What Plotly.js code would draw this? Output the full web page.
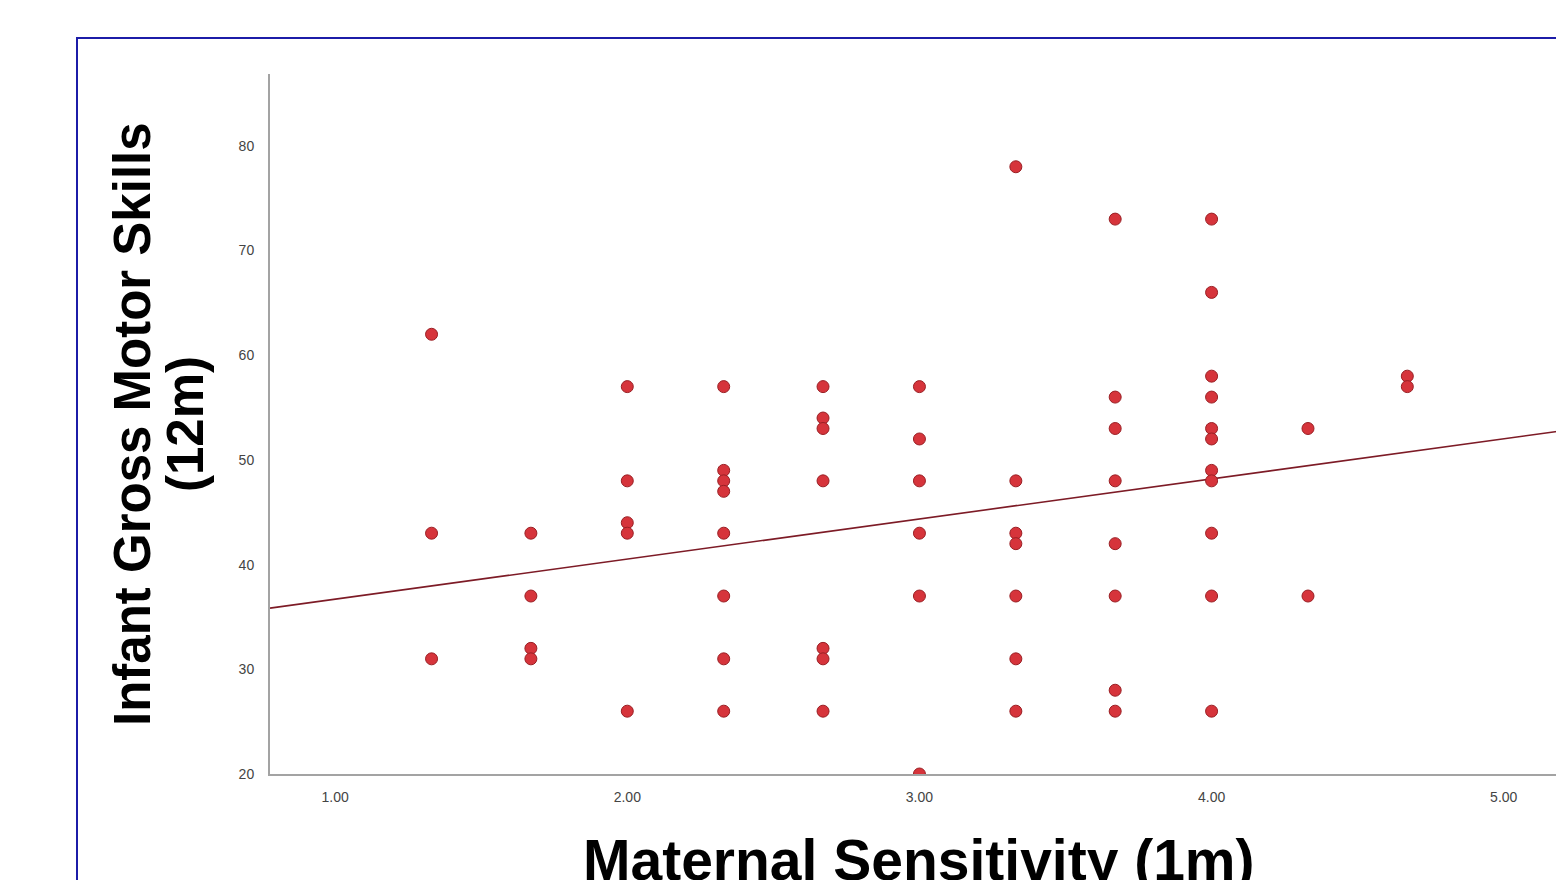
<!DOCTYPE html>
<html>
<head>
<meta charset="utf-8">
<script src="https://cdn.plot.ly/plotly-3.0.1.min.js"></script>
<style>
  html, body { margin: 0; padding: 0; background: #ffffff; overflow: hidden; width: 1556px; height: 880px; }
  #chart { position: absolute; left: 0; top: 0; width: 1640px; height: 900px; }
  #frame { position: absolute; left: 76px; top: 37px; width: 2000px; height: 2000px;
           border: 2px solid #1c1ca8; box-sizing: border-box; pointer-events: none; z-index: 5; }
</style>
</head>
<body>
<div id="chart"></div>
<div id="frame"></div>
<script>
// Maternal Sensitivity (1m) groups and Infant Gross Motor Skills (12m) values
const sensitivityLevels = [1.33, 1.67, 2.00, 2.33, 2.67, 3.00, 3.33, 3.67, 4.00, 4.33, 4.67];
const motorAt133 = [62, 43, 31];
const motorAt167 = [43, 37, 32, 31];
const motorAt200 = [57, 48, 44, 43, 26];
const motorAt233 = [57, 49, 48, 47, 43, 37, 31, 26];
const motorAt267 = [57, 54, 53, 48, 32, 31, 26];
const motorAt300 = [57, 52, 48, 43, 37, 20];
const motorAt333 = [78, 48, 43, 42, 37, 31, 26];
const motorAt367 = [73, 56, 53, 48, 42, 37, 28, 26];
const motorAt400 = [73, 66, 58, 56, 53, 52, 49, 48, 43, 37, 26];
const motorAt433 = [53, 37];
const motorAt467 = [58, 57];
const motorGroups = [motorAt133, motorAt167, motorAt200, motorAt233, motorAt267, motorAt300,
                     motorAt333, motorAt367, motorAt400, motorAt433, motorAt467];

// Linear fit line
const fitIntercept = 32.87;
const fitSlope = 3.83;

const xTickVals = [1, 2, 3, 4, 5];
const xTickText = ['1.00', '2.00', '3.00', '4.00', '5.00'];
const yTickVals = [20, 30, 40, 50, 60, 70, 80];
const xRange = [0.777, 5.22];
const yRange = [20, 86.86];

const xs = [], ys = [];
sensitivityLevels.forEach((lvl, i) => {
  motorGroups[i].forEach(v => { xs.push(lvl); ys.push(v); });
});

const fitX = [xRange[0], xRange[1]];
const fitY = fitX.map(x => fitIntercept + fitSlope * x);

const points = {
  x: xs, y: ys, type: 'scatter', mode: 'markers',
  marker: { size: 12, color: '#d6343b', line: { width: 1, color: '#9a1f24' } },
  hoverinfo: 'x+y', showlegend: false
};
const fit = {
  x: fitX, y: fitY, type: 'scatter', mode: 'lines',
  line: { color: '#7d1b26', width: 1.6 },
  hoverinfo: 'skip', showlegend: false
};

const titleFont = { family: 'Liberation Sans, Arial, sans-serif', size: 57, color: '#000000' };
const yTitleFont = { family: 'Liberation Sans, Arial, sans-serif', size: 51, color: '#000000' };
const tickFont = { family: 'Liberation Sans, Arial, sans-serif', size: 14, color: '#444444' };

const layout = {
  width: 1640, height: 900,
  margin: { l: 270, r: 72, t: 74, b: 126 },
  paper_bgcolor: 'rgba(0,0,0,0)',
  plot_bgcolor: '#ffffff',
  font: { family: 'Liberation Sans, Arial, sans-serif', size: 14, color: '#444444' },
  xaxis: {
    range: xRange, showgrid: false, zeroline: false,
    showline: true, linecolor: '#a3a3a3', linewidth: 2,
    ticks: '', tickvals: xTickVals, ticktext: xTickText,
    ticklabelstandoff: 9, tickfont: tickFont
  },
  yaxis: {
    range: yRange, showgrid: false, zeroline: false,
    showline: true, linecolor: '#a3a3a3', linewidth: 2,
    ticks: '', tickvals: yTickVals,
    ticklabelstandoff: 11, tickfont: tickFont
  },
  annotations: [
    { text: '<b>Maternal Sensitivity (1m)</b>', xref: 'paper', yref: 'paper', x: 0.5, y: 0,
      xanchor: 'center', yanchor: 'top', yshift: -52, showarrow: false, font: titleFont },
    { text: '<b>Infant Gross Motor Skills</b>', xref: 'paper', yref: 'paper', x: 0, y: 0.5,
      xanchor: 'center', yanchor: 'middle', xshift: -138, textangle: -90, showarrow: false, font: yTitleFont },
    { text: '<b>(12m)</b>', xref: 'paper', yref: 'paper', x: 0, y: 0.5,
      xanchor: 'center', yanchor: 'middle', xshift: -85, textangle: -90, showarrow: false, font: yTitleFont }
  ]
};

Plotly.newPlot('chart', [fit, points], layout, { displayModeBar: false, staticPlot: true });
</script>
</body>
</html>
